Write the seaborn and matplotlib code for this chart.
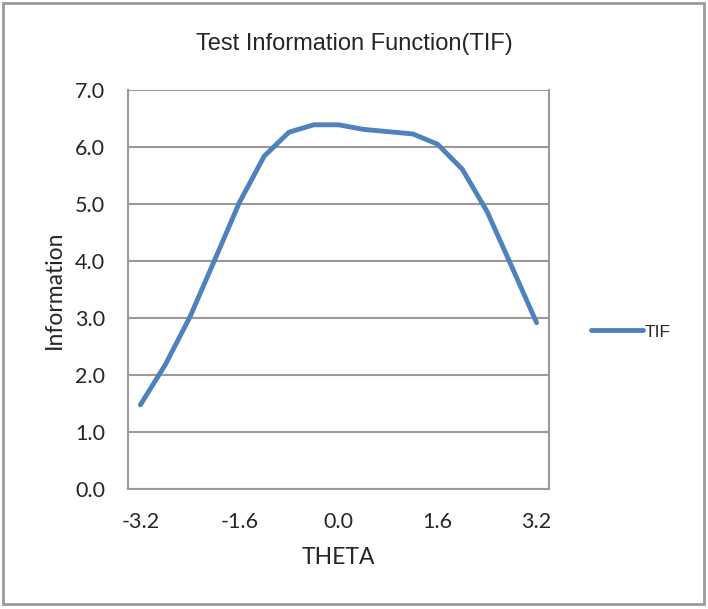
import numpy as np
import pandas as pd
import seaborn as sns
import matplotlib.pyplot as plt
from matplotlib.patches import Rectangle

# Veriler
theta = [-3.2, -2.8, -2.4, -2.0, -1.6, -1.2, -0.8, -0.4, 0.0,
         0.4, 0.8, 1.2, 1.6, 2.0, 2.4, 2.8, 3.2]
information = [1.48, 2.18, 3.02, 4.02, 5.03, 5.84, 6.26, 6.39, 6.39,
               6.31, 6.27, 6.23, 6.05, 5.61, 4.87, 3.90, 2.92]
label_ticks = [-3.2, -1.6, 0.0, 1.6, 3.2]
y_ticks = [0, 1, 2, 3, 4, 5, 6, 7]

df = pd.DataFrame({"THETA": theta, "Information": information})

sns.set_style("white")
plt.rcParams["font.family"] = ["Lato", "DejaVu Sans"]

fig = plt.figure(figsize=(7.08, 6.09), dpi=100)
ax = fig.add_axes([128 / 708, 1 - 489.3 / 609, 421 / 708, 399.3 / 609])

gray = "#9a9a9a"
blue = "#4f81bd"

# Çizgi grafiği
sns.lineplot(data=df, x="THETA", y="Information", color=blue, linewidth=3.5,
             label="TIF", ax=ax, solid_capstyle="round")

# Eksen sınırları
ax.set_xlim(-3.4, 3.4)
ax.set_ylim(0, 7)

# Y ekseni
ax.set_yticks(y_ticks)
ax.set_yticklabels([f"{v:.1f}" for v in y_ticks], fontsize=15.5)
ax.yaxis.grid(True, color=gray, linewidth=1.5)
ax.tick_params(axis="y", length=6, width=1.5, color=gray, pad=10.5)

# X ekseni: kategori sınırlarında işaretler, etiketler ortada
ax.set_xticks(np.arange(-3.4, 3.41, 0.4))
ax.set_xticklabels([])
ax.tick_params(axis="x", which="major", length=5, width=1.5, color=gray)
ax.set_xticks(label_ticks, minor=True)
ax.set_xticklabels([f"{v:.1f}" for v in label_ticks], minor=True, fontsize=15.5)
ax.tick_params(axis="x", which="minor", length=0, pad=16)

for s in ax.spines.values():
    s.set_color(gray)
    s.set_linewidth(1.5)
ax.spines["top"].set_visible(False)

ax.set_xlabel("THETA", fontsize=16.5)
ax.set_ylabel("Information", fontsize=16.5)
ax.xaxis.set_label_coords(0.5, -0.145)
ax.yaxis.set_label_coords(-0.15, 0.5)

# Başlık
fig.text(0.5, 1 - 44 / 609, "Test Information Function(TIF)", ha="center",
         va="center", fontsize=17, family=["Liberation Sans", "DejaVu Sans"])

# Lejant
leg = ax.legend(loc="center left", bbox_to_anchor=(1.062, 0.394), frameon=False,
                fontsize=12.5, handlelength=3.0, handletextpad=0.1)
for t in leg.get_texts():
    t.set_family(["Liberation Sans", "DejaVu Sans"])

# Dış çerçeve
fig.patches.append(Rectangle((3 / 708, 5 / 609), 701 / 708, 601 / 609,
                             transform=fig.transFigure, fill=False,
                             edgecolor=gray, linewidth=2))

plt.savefig("out.png", dpi=100)
